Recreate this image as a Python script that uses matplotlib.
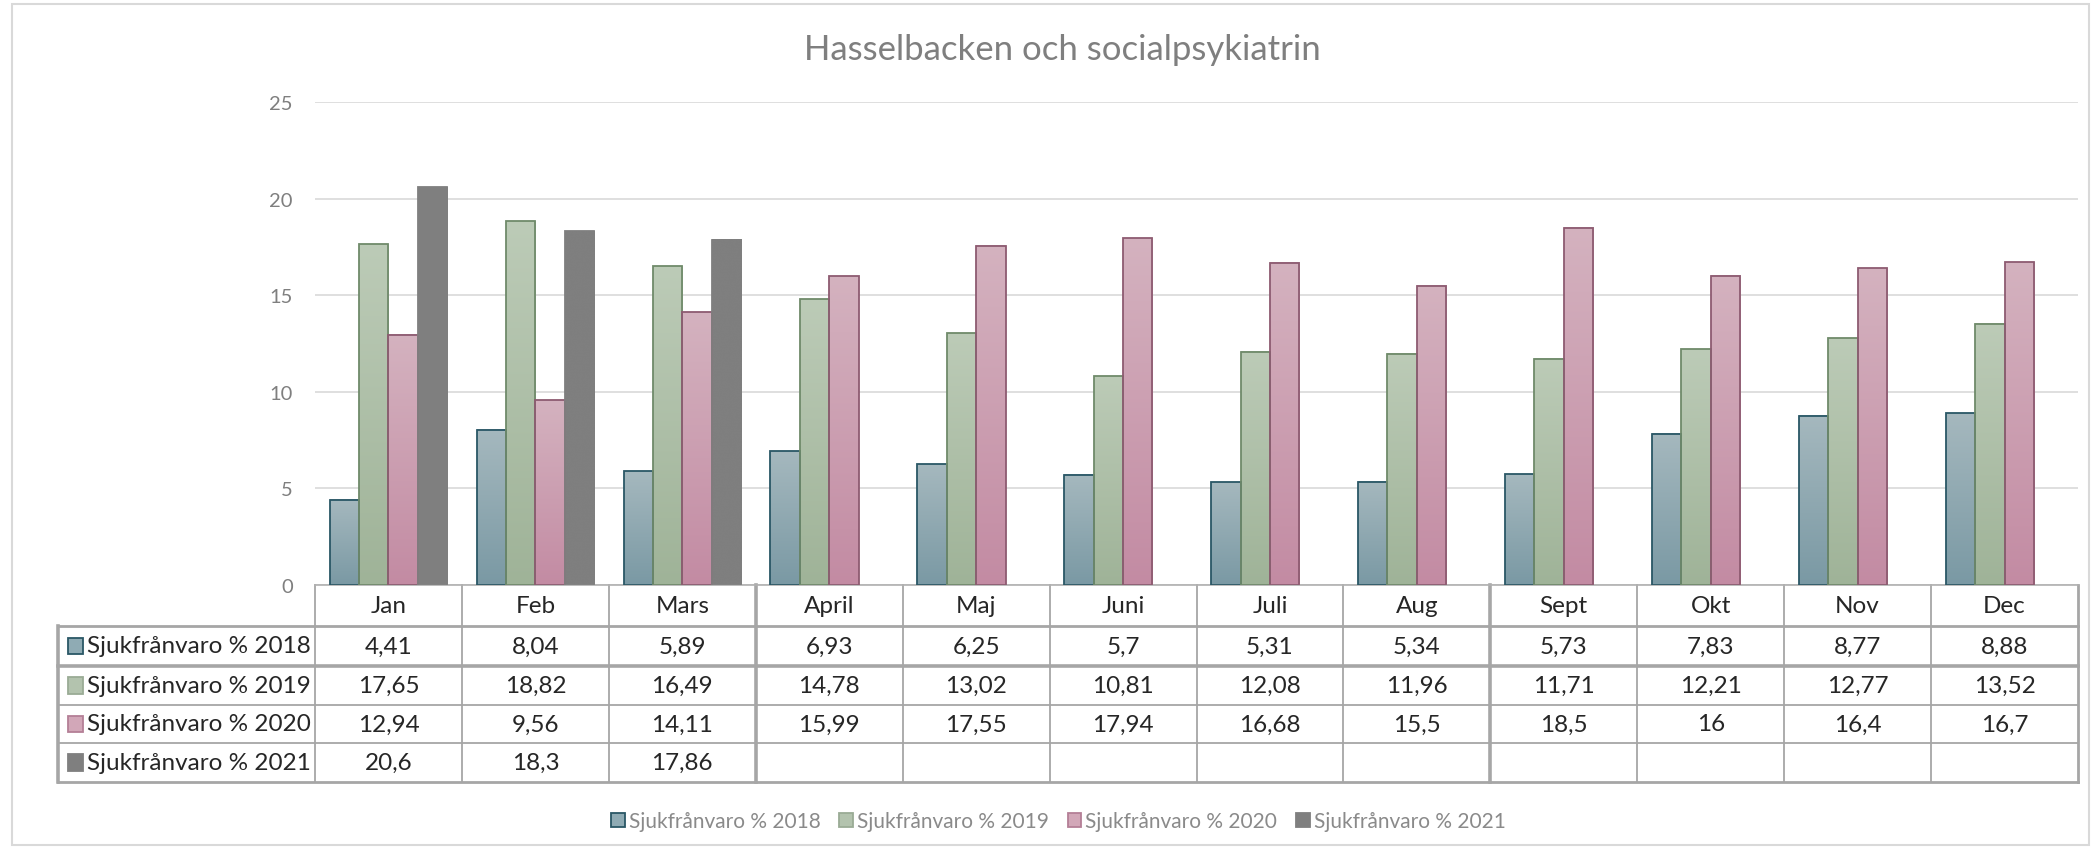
import numpy as np
import matplotlib
matplotlib.use("Agg")
import matplotlib.pyplot as plt
from matplotlib.patches import Rectangle, Patch
from matplotlib.colors import LinearSegmentedColormap
from matplotlib.transforms import blended_transform_factory

plt.rcParams['font.family'] = ['Lato', 'DejaVu Sans']

months = ["Jan", "Feb", "Mars", "April", "Maj", "Juni", "Juli", "Aug", "Sept", "Okt", "Nov", "Dec"]
series_names = ["Sjukfrånvaro % 2018", "Sjukfrånvaro % 2019", "Sjukfrånvaro % 2020", "Sjukfrånvaro % 2021"]
v2018 = [4.41, 8.04, 5.89, 6.93, 6.25, 5.7, 5.31, 5.34, 5.73, 7.83, 8.77, 8.88]
v2019 = [17.65, 18.82, 16.49, 14.78, 13.02, 10.81, 12.08, 11.96, 11.71, 12.21, 12.77, 13.52]
v2020 = [12.94, 9.56, 14.11, 15.99, 17.55, 17.94, 16.68, 15.5, 18.5, 16, 16.4, 16.7]
v2021 = [20.6, 18.3, 17.86]
yticks = [0, 5, 10, 15, 20, 25]
title = "Hasselbacken och socialpsykiatrin"

series = [v2018, v2019, v2020, v2021]
# (bottom colour, top colour, edge colour)
styles = [("#7a99a4", "#a5b8be", "#2a5766"),
          ("#9fb398", "#bccbb7", "#6f8a6a"),
          ("#c38ba3", "#d4b2bf", "#8d5b71"),
          ("#7f7f7f", "#7f7f7f", "#7f7f7f")]
square_colors = [("#8fabb4", "#2a5766"), ("#b3c3ae", "#9aab95"),
                 ("#d2a7b8", "#b47f96"), ("#7f7f7f", "#7f7f7f")]

W, H = 2100, 853
fig = plt.figure(figsize=(W / 100, H / 100), dpi=100)
ax = fig.add_axes([315 / W, 1 - 586 / H, (2078 - 315) / W, (586 - 103) / H])

x = np.arange(len(months))
w = 0.2
grad = np.linspace(0, 1, 128).reshape(-1, 1)
for k, vals in enumerate(series):
    bottom_c, top_c, edge_c = styles[k]
    cmap = LinearSegmentedColormap.from_list("g%d" % k, [bottom_c, top_c])
    xs = x[:len(vals)] + (k - 1.5) * w
    bars = ax.bar(xs, vals, width=w, facecolor="none", edgecolor=edge_c, linewidth=1.3, zorder=3)
    for b in bars:
        ax.imshow(grad, extent=[b.get_x(), b.get_x() + b.get_width(), 0, b.get_height()],
                  origin="lower", aspect="auto", cmap=cmap, interpolation="bicubic", zorder=2)

ax.set_xlim(-0.5, len(months) - 0.5)
ax.set_ylim(0, 25)
ax.set_yticks(yticks)
ax.set_xticks([])
ax.tick_params(axis="y", length=0, pad=16, labelsize=14.5, labelcolor="#7f7f7f")
ax.yaxis.grid(True, color="#d9d9d9", linewidth=1.2)
ax.set_axisbelow(True)
for s in ["top", "right", "left"]:
    ax.spines[s].set_visible(False)
ax.spines["bottom"].set_color("#b0b0b0")
ax.spines["bottom"].set_linewidth(1.2)

# data table under the axis
tr = blended_transform_factory(ax.transData, fig.transFigure)
rows_px = [586, 627, 667, 706, 744, 783]
ry = [1 - p / H for p in rows_px]
left = -0.5 - (315 - 58) / 146.9
right = len(months) - 0.5
line_c = "#a6a6a6"

def hline(y, x0, x1, lw):
    ax.plot([x0, x1], [y, y], color=line_c, lw=lw, transform=tr, clip_on=False, zorder=1)

def vline(xv, y0, y1, lw):
    ax.plot([xv, xv], [y0, y1], color=line_c, lw=lw, transform=tr, clip_on=False, zorder=1)

hline(ry[1], left, right, 2.0)
hline(ry[2], left, right, 2.6)
hline(ry[3], left, right, 1.3)
hline(ry[4], left, right, 1.3)
hline(ry[5], left, right, 2.0)
vline(left, ry[1], ry[5], 2.6)
thick = {2.5: 2.6, 7.5: 2.6, right: 2.0}
for b in np.arange(-0.5, len(months)):
    vline(b, ry[0], ry[5], thick.get(b, 1.3))

fs = 17.5
for i, m in enumerate(months):
    ax.text(i, (ry[0] + ry[1]) / 2, m, transform=tr, ha="center", va="center",
            fontsize=fs, color="#262626", clip_on=False)
for r, vals in enumerate(series):
    yc = (ry[r + 1] + ry[r + 2]) / 2
    ax.text(left + 0.2, yc, series_names[r], transform=tr, ha="left", va="center",
            fontsize=fs, color="#262626", clip_on=False)
    fc, ec = square_colors[r]
    ax.add_patch(Rectangle((left + 0.065, yc - 0.0095), 0.105, 0.019, transform=tr,
                           facecolor=fc, edgecolor=ec, lw=1.3, clip_on=False))
    for i, v in enumerate(vals):
        ax.text(i, yc, ("%g" % v).replace(".", ","), transform=tr, ha="center", va="center",
                fontsize=fs, color="#262626", clip_on=False)

fig.text(0.506, 1 - 50 / H, title, ha="center", va="center", fontsize=25, color="#7f7f7f")

handles = [Patch(facecolor=square_colors[k][0], edgecolor=square_colors[k][1], lw=1.3)
           for k in range(len(series))]
fig.legend(handles, series_names, loc="center", bbox_to_anchor=(0.504, 1 - 822 / H), ncol=4,
           frameon=False, fontsize=15, labelcolor="#8a8a8a", handlelength=0.65, handleheight=0.65,
           handletextpad=0.2, columnspacing=0.9)

fig.patches.append(Rectangle((12 / W, 1 - 846 / H), (2089 - 12) / W, (846 - 5) / H,
                             transform=fig.transFigure, fill=False, edgecolor="#d9d9d9", lw=1.5))

fig.savefig("out.png", dpi=100, facecolor="white")
